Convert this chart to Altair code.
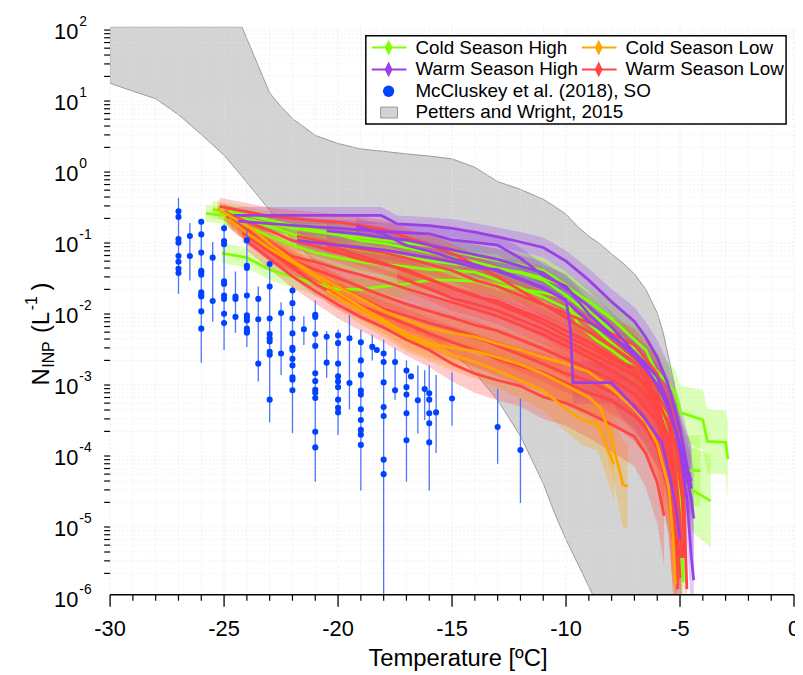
import altair as alt
import pandas as pd

FONT = "Liberation Sans"

# ---------------- axes ----------------
x_ticks = [-30, -25, -20, -15, -10, -5, 0]
x_labels = ["-30", "-25", "-20", "-15", "-10", "-5", "0"]
x_minor = [-29, -28, -27, -26, -24, -23, -22, -21, -19, -18, -17, -16,
           -14, -13, -12, -11, -9, -8, -7, -6, -4, -3, -2, -1]
y_ticks = [1e-6, 1e-5, 1e-4, 1e-3, 1e-2, 1e-1, 1, 10, 100]
y_exp = ["-6", "-5", "-4", "-3", "-2", "-1", "0", "1", "2"]
y_minor = [m * 10.0 ** k for k in range(-6, 2) for m in range(2, 10)]

# ---------------- Petters and Wright (2015) envelope ----------------
pw_T = [-30, -29, -28, -27, -26, -25, -24.22, -23.5, -23, -22.5, -22, -21, -20,
        -19, -18, -17, -16, -15, -14, -13, -12, -11, -10.5, -10, -9.5, -9,
        -8.83, -8.5, -8, -7.5, -7, -6.5, -6, -5.75, -5.5, -5.25, -5.1, -5.0, -4.96]
pw_hi = [100, 100, 100, 100, 100, 100, 100, 28.2, 11.7, 7.5, 5.1, 2.95, 2.27,
         1.9, 1.76, 1.62, 1.51, 1.38, 1.05, 0.66, 0.513, 0.372, 0.295, 0.229,
         0.155, 0.112, 0.103, 0.087, 0.063, 0.047, 0.033, 0.020, 0.0093, 0.0051,
         0.0022, 0.00093, 0.00032, 0.000039, 0.000001]
pw_lo = [16, 12.4, 9.7, 5.8, 3.05, 1.55, 0.785, 0.41, 0.26, 0.166, 0.1, 0.049,
         0.025, 0.0151, 0.01, 0.0066, 0.0044, 0.0026, 0.00135, 0.00055, 0.000172,
         0.000037, 0.000014, 0.000006, 0.0000028, 0.0000013,
         1e-6, 1e-6, 1e-6, 1e-6, 1e-6, 1e-6, 1e-6, 1e-6, 1e-6, 1e-6, 1e-6, 1e-6, 1e-6]

# ---------------- INP spectra: (T, N, error half-width in decades) ----------------
cold_high = {
    "G1": [(-25.8, 0.236, 0.12), (-25, 0.22, 0.12), (-24, 0.195, 0.12), (-22, 0.146, 0.13),
           (-20, 0.117, 0.14), (-18, 0.099, 0.15), (-16, 0.082, 0.15), (-14, 0.059, 0.16),
           (-12, 0.044, 0.17), (-11, 0.037, 0.18), (-10, 0.023, 0.2), (-9, 0.0098, 0.22),
           (-8, 0.0053, 0.24), (-7, 0.0031, 0.25), (-6, 0.0014, 0.28), (-5.2, 0.0007, 0.32),
           (-5, 0.00037, 0.38), (-4, 0.00029, 0.42), (-3.8, 0.000145, 0.45), (-3, 0.00014, 0.45),
           (-2.9, 0.000081, 0.55)],
    "G2": [(-25.1, 0.065, 0.14), (-24, 0.056, 0.14), (-23, 0.038, 0.15), (-22, 0.030, 0.15),
           (-21, 0.024, 0.16), (-20, 0.020, 0.16), (-19, 0.020, 0.16), (-18, 0.022, 0.16),
           (-17, 0.024, 0.16), (-16, 0.027, 0.16), (-15, 0.027, 0.16), (-14, 0.026, 0.16),
           (-13, 0.023, 0.17), (-12, 0.020, 0.17), (-11, 0.018, 0.18), (-10, 0.015, 0.19),
           (-9.5, 0.0067, 0.22), (-8.7, 0.0039, 0.24), (-8, 0.0028, 0.25), (-7, 0.0016, 0.28),
           (-6.5, 0.0011, 0.3), (-6, 0.00066, 0.33), (-5.5, 0.00025, 0.4), (-5.2, 0.000065, 0.5),
           (-4.9, 0.000039, 0.55), (-4.4, 0.000029, 0.6), (-3.65, 0.000021, 0.65)],
    "G3": [(-25.5, 0.268, 0.12), (-25, 0.244, 0.12), (-24, 0.191, 0.12), (-23, 0.153, 0.13),
           (-22, 0.121, 0.13), (-21, 0.098, 0.14), (-20, 0.085, 0.14), (-19, 0.072, 0.15),
           (-18, 0.065, 0.15), (-17, 0.057, 0.15), (-16, 0.051, 0.15), (-15, 0.046, 0.16),
           (-14, 0.042, 0.16), (-13, 0.038, 0.16), (-12, 0.035, 0.17), (-11, 0.029, 0.17),
           (-10, 0.022, 0.18), (-9, 0.0136, 0.2), (-8, 0.0077, 0.22), (-7, 0.0039, 0.25),
           (-6.5, 0.0028, 0.26), (-6, 0.0013, 0.3), (-5.5, 0.00048, 0.36), (-5.2, 0.000088, 0.5),
           (-5, 0.0000225, 0.65), (-4.9, 0.0000033, 0.8), (-4.85, 0.0000015, 0.8)],
    "G4": [(-25, 0.212, 0.12), (-24, 0.156, 0.12), (-23, 0.111, 0.13), (-22, 0.084, 0.14),
           (-21, 0.066, 0.14), (-20, 0.056, 0.15), (-19, 0.049, 0.15), (-18, 0.045, 0.15),
           (-17, 0.042, 0.16), (-16, 0.038, 0.16), (-15, 0.037, 0.16), (-14, 0.035, 0.16),
           (-13, 0.027, 0.17), (-12, 0.021, 0.17), (-11, 0.0155, 0.18), (-10, 0.0109, 0.2),
           (-9, 0.0066, 0.22), (-8, 0.0035, 0.24), (-7, 0.0019, 0.27), (-6.5, 0.00113, 0.3),
           (-6, 0.00056, 0.33), (-5.5, 0.000166, 0.42), (-5.2, 0.000031, 0.6),
           (-5, 0.0000062, 0.8), (-4.96, 0.000002, 0.8)],
    "G5": [(-24.8, 0.252, 0.12), (-24, 0.222, 0.12), (-22, 0.160, 0.13), (-20, 0.118, 0.14),
           (-19, 0.097, 0.14), (-18, 0.089, 0.14), (-17, 0.077, 0.15), (-16, 0.066, 0.15),
           (-15, 0.056, 0.15), (-14, 0.049, 0.16), (-13, 0.040, 0.16), (-12, 0.034, 0.17),
           (-11, 0.027, 0.18), (-10, 0.0165, 0.19), (-9, 0.0091, 0.21), (-8, 0.0053, 0.23),
           (-7, 0.0028, 0.25), (-6, 0.00103, 0.3), (-5.5, 0.0003, 0.38), (-5, 0.000128, 0.45),
           (-4.9, 0.000081, 0.5), (-4.8, 0.000056, 0.5), (-4.1, 0.000056, 0.5)],
}
cold_low = {
    "O1": [(-25.3, 0.277, 0.12), (-25, 0.24, 0.12), (-24, 0.161, 0.13), (-23, 0.089, 0.14),
           (-22, 0.051, 0.15), (-21, 0.0325, 0.16), (-20, 0.0218, 0.17), (-19, 0.0148, 0.18),
           (-18, 0.0099, 0.19), (-17, 0.0074, 0.2), (-16, 0.0057, 0.2), (-15, 0.0049, 0.21),
           (-14, 0.0043, 0.21), (-13, 0.0034, 0.22), (-12, 0.0028, 0.22), (-11, 0.0022, 0.23),
           (-10, 0.0018, 0.24), (-9, 0.00137, 0.26), (-8, 0.0008, 0.3), (-7, 0.00041, 0.35),
           (-6.5, 0.00027, 0.4), (-6, 0.000134, 0.5), (-5.5, 0.000033, 0.65),
           (-5.3, 0.0000062, 0.8), (-5.2, 0.0000014, 0.8)],
    "O2": [(-24.8, 0.195, 0.12), (-24, 0.125, 0.13), (-23, 0.075, 0.14), (-22, 0.048, 0.15),
           (-21, 0.0305, 0.16), (-20, 0.0177, 0.17), (-19, 0.0113, 0.18), (-18, 0.0074, 0.19),
           (-17, 0.0047, 0.2), (-16, 0.0035, 0.21), (-15, 0.0030, 0.21), (-14, 0.0027, 0.22),
           (-13, 0.0022, 0.22), (-12, 0.00175, 0.23), (-11, 0.0013, 0.25), (-10, 0.00089, 0.27),
           (-9, 0.0006, 0.3), (-8.5, 0.00044, 0.33), (-8, 0.000155, 0.45), (-7.5, 0.000035, 0.6),
           (-7.3, 0.000034, 0.6)],
    "O3": [(-20.5, 0.0193, 0.17), (-19, 0.0099, 0.19), (-18, 0.0068, 0.2), (-17, 0.0043, 0.21),
           (-16, 0.0032, 0.21), (-15, 0.0024, 0.22), (-14, 0.0019, 0.23), (-13, 0.00143, 0.24),
           (-12, 0.00104, 0.26), (-11, 0.00075, 0.28), (-10, 0.00041, 0.32), (-9.3, 0.00029, 0.35),
           (-8.6, 0.00025, 0.37), (-8.3, 0.00014, 0.42), (-7.9, 0.000069, 0.5)],
}
warm_high = {
    "P1": [(-24.6, 0.22, 0.12), (-23, 0.22, 0.12), (-21, 0.22, 0.12), (-19, 0.22, 0.12),
           (-18.1, 0.22, 0.12), (-17.4, 0.167, 0.12), (-16, 0.158, 0.12), (-15, 0.145, 0.13),
           (-14, 0.128, 0.13), (-13, 0.11, 0.13), (-12, 0.093, 0.14), (-11, 0.078, 0.14),
           (-10, 0.05, 0.15), (-9, 0.027, 0.16), (-8, 0.0134, 0.18), (-7, 0.0071, 0.2),
           (-6.5, 0.0042, 0.22), (-6, 0.0022, 0.25), (-5.5, 0.00087, 0.3), (-5, 0.000214, 0.38),
           (-4.7, 0.000069, 0.48), (-4.5, 0.000031, 0.55)],
    "P2": [(-24.4, 0.183, 0.12), (-22, 0.16, 0.12), (-20, 0.145, 0.12), (-18, 0.13, 0.13),
           (-16, 0.121, 0.13), (-15, 0.1, 0.13), (-14, 0.092, 0.14), (-13, 0.084, 0.14),
           (-12, 0.055, 0.15), (-11, 0.031, 0.16), (-10, 0.0222, 0.17), (-9, 0.009, 0.19),
           (-8, 0.0045, 0.21), (-7, 0.0023, 0.24), (-6.5, 0.0015, 0.26), (-6, 0.00092, 0.29),
           (-5.5, 0.00041, 0.34), (-5, 0.000132, 0.42), (-4.8, 0.000074, 0.48),
           (-4.5, 0.00004, 0.52)],
    "P3": [(-20.5, 0.133, 0.12), (-19, 0.12, 0.12), (-18, 0.107, 0.13), (-17, 0.1, 0.13),
           (-16, 0.084, 0.13), (-15, 0.072, 0.14), (-14, 0.062, 0.14), (-13, 0.053, 0.15),
           (-12, 0.0425, 0.15), (-11, 0.0342, 0.16), (-10, 0.0205, 0.17), (-9, 0.0116, 0.19),
           (-8, 0.0059, 0.21), (-7, 0.0026, 0.24), (-6.5, 0.00178, 0.26), (-6, 0.00116, 0.28),
           (-5.5, 0.00049, 0.33), (-5, 0.000107, 0.45), (-4.7, 0.0000225, 0.6),
           (-4.5, 0.0000033, 0.8), (-4.4, 0.0000016, 0.8)],
    "P4": [(-19.2, 0.156, 0.12), (-18, 0.12, 0.13), (-17, 0.083, 0.13), (-16, 0.069, 0.14),
           (-15, 0.055, 0.14), (-14, 0.0444, 0.15), (-13, 0.036, 0.15), (-12, 0.0275, 0.16),
           (-11, 0.0205, 0.17), (-10, 0.0145, 0.18), (-9.8, 0.0053, 0.22), (-9.7, 0.00097, 0.3),
           (-8, 0.00097, 0.3), (-7.3, 0.00056, 0.33), (-6.6, 0.00032, 0.37), (-5.8, 0.00014, 0.43),
           (-5.4, 0.000039, 0.55), (-5.2, 0.000018, 0.65), (-5, 0.0000062, 0.8)],
    "P5": [(-21.8, 0.098, 0.13), (-20, 0.084, 0.13), (-18, 0.072, 0.14), (-16, 0.056, 0.14),
           (-15, 0.049, 0.15), (-14, 0.041, 0.15), (-13, 0.038, 0.15), (-12, 0.0285, 0.16),
           (-11, 0.0214, 0.17), (-10, 0.0137, 0.18), (-9, 0.007, 0.2), (-8, 0.0043, 0.22),
           (-7, 0.0026, 0.24), (-6.5, 0.0016, 0.26), (-6, 0.00089, 0.29), (-5.5, 0.00044, 0.33),
           (-5, 0.000115, 0.43), (-4.7, 0.0000428, 0.52), (-4.5, 0.0000225, 0.6),
           (-4.4, 0.0000118, 0.7)],
}
warm_low = {
    "R1": [(-25.2, 0.296, 0.12), (-24, 0.25, 0.12), (-23, 0.214, 0.12), (-22, 0.2, 0.12),
           (-21, 0.186, 0.12), (-20, 0.177, 0.12), (-19, 0.16, 0.12), (-18, 0.14, 0.13),
           (-17, 0.108, 0.13), (-16, 0.084, 0.14), (-15, 0.064, 0.14), (-14, 0.0444, 0.15),
           (-13, 0.0302, 0.16), (-12, 0.0194, 0.17), (-11, 0.0124, 0.18), (-10, 0.0079, 0.2),
           (-9, 0.005, 0.22), (-8, 0.0032, 0.24), (-7, 0.0019, 0.26), (-6.5, 0.0012, 0.28),
           (-6, 0.0006, 0.32), (-5.5, 0.00024, 0.38), (-5.2, 0.000059, 0.55),
           (-5, 0.0000118, 0.75), (-4.9, 0.0000033, 0.8)],
    "R2": [(-25, 0.246, 0.12), (-24, 0.18, 0.12), (-23, 0.135, 0.13), (-22, 0.097, 0.13),
           (-21, 0.082, 0.14), (-20, 0.066, 0.14), (-19, 0.053, 0.15), (-18, 0.045, 0.15),
           (-17, 0.038, 0.16), (-16, 0.028, 0.16), (-15, 0.021, 0.17), (-14, 0.016, 0.18),
           (-13, 0.0136, 0.18), (-12, 0.0101, 0.19), (-11, 0.0076, 0.2), (-10, 0.0052, 0.22),
           (-9, 0.0036, 0.24), (-8, 0.0023, 0.26), (-7, 0.0014, 0.28), (-6.5, 0.00083, 0.3),
           (-6, 0.00046, 0.34), (-5.5, 0.00016, 0.42), (-5.2, 0.0000225, 0.65),
           (-5, 0.0000017, 0.8)],
    "R3": [(-24.9, 0.215, 0.12), (-24, 0.14, 0.13), (-23, 0.093, 0.14), (-22, 0.058, 0.15),
           (-21, 0.049, 0.15), (-20, 0.039, 0.16), (-19, 0.032, 0.16), (-18, 0.026, 0.17),
           (-17, 0.0204, 0.17), (-16, 0.0164, 0.18), (-15, 0.0132, 0.18), (-14, 0.0105, 0.19),
           (-13, 0.0084, 0.2), (-12, 0.0062, 0.21), (-11, 0.0046, 0.22), (-10, 0.0032, 0.24),
           (-9, 0.0022, 0.26), (-8, 0.00144, 0.28), (-7, 0.00091, 0.3), (-6.5, 0.00067, 0.32),
           (-6, 0.00041, 0.35), (-5.5, 0.000144, 0.44), (-5.2, 0.0000364, 0.6),
           (-5, 0.0000086, 0.8), (-4.96, 0.0000033, 0.8)],
    "R4": [(-24.7, 0.183, 0.12), (-24, 0.126, 0.13), (-23, 0.073, 0.14), (-22, 0.051, 0.15),
           (-21, 0.038, 0.16), (-20, 0.029, 0.16), (-19, 0.0215, 0.17), (-18, 0.0162, 0.18),
           (-17, 0.0124, 0.18), (-16, 0.0099, 0.19), (-15, 0.008, 0.2), (-14, 0.0063, 0.21),
           (-13, 0.0052, 0.22), (-12, 0.0039, 0.23), (-11, 0.0029, 0.24), (-10, 0.0021, 0.26),
           (-9, 0.0015, 0.28), (-8, 0.00108, 0.3), (-7, 0.00066, 0.32), (-6.5, 0.00042, 0.35),
           (-6, 0.00028, 0.38), (-5.5, 0.000087, 0.5), (-5.2, 0.0000062, 0.8),
           (-5.1, 0.0000012, 0.8)],
    "R5": [(-24.4, 0.156, 0.12), (-24, 0.128, 0.13), (-23, 0.076, 0.14), (-22, 0.045, 0.15),
           (-21, 0.0325, 0.16), (-20, 0.0222, 0.17), (-19, 0.015, 0.18), (-18, 0.0106, 0.19),
           (-17, 0.0085, 0.2), (-16, 0.0067, 0.21), (-15, 0.0055, 0.21), (-14, 0.0044, 0.22),
           (-13, 0.0032, 0.23), (-12, 0.0024, 0.24), (-11, 0.00178, 0.25), (-10, 0.0013, 0.27),
           (-9, 0.00104, 0.28), (-8, 0.0007, 0.3), (-7, 0.00048, 0.33), (-6.5, 0.0003, 0.36),
           (-6, 0.00016, 0.42), (-5.5, 0.000031, 0.6), (-5.3, 0.0000062, 0.8)],
    "R6": [(-24.2, 0.126, 0.13), (-24, 0.114, 0.13), (-23, 0.068, 0.14), (-22, 0.041, 0.15),
           (-21, 0.024, 0.17), (-20, 0.016, 0.18), (-19, 0.0117, 0.19), (-18, 0.0087, 0.2),
           (-17, 0.0065, 0.21), (-16, 0.0048, 0.22), (-15, 0.0036, 0.23), (-14, 0.0028, 0.24),
           (-13, 0.0021, 0.25), (-12, 0.00164, 0.26), (-11, 0.00136, 0.27), (-10, 0.00096, 0.29),
           (-9, 0.0007, 0.3), (-8, 0.00054, 0.32), (-7, 0.00033, 0.36), (-6.5, 0.00023, 0.4),
           (-6, 0.000115, 0.46), (-5.5, 0.000029, 0.62), (-5.2, 0.0000033, 0.8),
           (-5.1, 0.0000012, 0.8)],
    "R7": [(-24, 0.095, 0.13), (-23, 0.054, 0.15), (-22, 0.0305, 0.16), (-21, 0.0189, 0.17),
           (-20, 0.0121, 0.19), (-19, 0.0082, 0.2), (-18, 0.0058, 0.21), (-17, 0.0039, 0.22),
           (-16, 0.0028, 0.24), (-15, 0.0018, 0.25), (-14, 0.0013, 0.27), (-13, 0.00105, 0.28),
           (-12, 0.00087, 0.29), (-11, 0.00061, 0.31), (-10, 0.0005, 0.32), (-9, 0.00036, 0.35),
           (-8, 0.00025, 0.38), (-7, 0.000169, 0.42), (-6.5, 0.000097, 0.48),
           (-6, 0.000038, 0.58), (-5.7, 0.000013, 0.7)],
    "R8": [(-21.8, 0.113, 0.12), (-21, 0.1, 0.13), (-20, 0.084, 0.13), (-19, 0.074, 0.14),
           (-18, 0.066, 0.14), (-17, 0.055, 0.15), (-16, 0.045, 0.15), (-15, 0.037, 0.16),
           (-14, 0.027, 0.16), (-13, 0.022, 0.17), (-12, 0.0164, 0.17), (-11, 0.0123, 0.18),
           (-10, 0.0091, 0.19), (-9, 0.0068, 0.2), (-8, 0.0048, 0.22), (-7, 0.0033, 0.24),
           (-6.5, 0.0021, 0.26), (-6, 0.0013, 0.28), (-5.5, 0.0005, 0.33), (-5.2, 0.00022, 0.38),
           (-4.9, 0.000059, 0.5), (-4.8, 0.0000118, 0.7), (-4.7, 0.0000012, 0.8)],
    "R9": [(-20.5, 0.082, 0.13), (-20, 0.075, 0.13), (-19, 0.059, 0.14), (-18, 0.047, 0.15),
           (-17, 0.0357, 0.16), (-16, 0.0275, 0.16), (-15, 0.021, 0.17), (-14, 0.0166, 0.18),
           (-13, 0.0124, 0.18), (-12, 0.0092, 0.19), (-11, 0.0066, 0.2), (-10, 0.0044, 0.22),
           (-9, 0.0031, 0.24), (-8, 0.0021, 0.26), (-7, 0.0016, 0.27), (-6.5, 0.0011, 0.29),
           (-6, 0.0005, 0.33), (-5.5, 0.00027, 0.38), (-5.2, 0.000112, 0.45),
           (-4.9, 0.0000225, 0.65), (-4.8, 0.0000033, 0.8)],
    "R10": [(-17.4, 0.0312, 0.16), (-17, 0.027, 0.16), (-16, 0.0205, 0.17), (-15, 0.015, 0.18),
            (-14, 0.0124, 0.18), (-13, 0.01, 0.19), (-12, 0.0074, 0.2), (-11, 0.0055, 0.21),
            (-10, 0.0038, 0.22), (-9, 0.0026, 0.24), (-8, 0.0018, 0.26), (-7, 0.00125, 0.28),
            (-6.5, 0.00093, 0.3), (-6, 0.00068, 0.32), (-5.5, 0.00035, 0.37),
            (-5.2, 0.00012, 0.45), (-4.9, 0.0000428, 0.55), (-4.8, 0.0000086, 0.8)],
}

# ---------------- McCluskey et al. (2018), SO ----------------
mc_points = {
    -27: [0.252, 0.210, 0.102, 0.091, 0.059, 0.049, 0.039, 0.034],
    -26.5: [0.113, 0.059],
    -26: [0.179, 0.119, 0.066, 0.0367, 0.0348, 0.0322, 0.0182, 0.0167, 0.0159, 0.0098, 0.0056],
    -25.5: [0.056, 0.0137],
    -25: [0.145, 0.096, 0.0866, 0.026, 0.0238, 0.0164, 0.0147, 0.0091, 0.0067],
    -24.5: [0.0159, 0.0147, 0.0082],
    -24: [0.098, 0.043, 0.040, 0.0164, 0.0086, 0.0080, 0.0073, 0.0056, 0.0052, 0.0049],
    -23.5: [0.0147, 0.0076, 0.0018],
    -23: [0.0455, 0.0219, 0.0078, 0.0047, 0.0041, 0.0037, 0.00265, 0.0024, 0.00056],
    -22.5: [0.0093, 0.0025],
    -22: [0.0193, 0.0128, 0.0078, 0.0048, 0.0030, 0.0028, 0.0021, 0.0017, 0.00116, 0.00107, 0.00076],
    -21.5: [0.0055],
    -21: [0.0088, 0.0082, 0.0047, 0.0032, 0.00132, 0.00102, 0.00077, 0.00070, 0.00059, 0.000198, 0.000119],
    -20.5: [0.0043, 0.00186],
    -20: [0.0045, 0.0035, 0.0018, 0.00119, 0.00101, 0.00084, 0.00056, 0.00043, 0.00037],
    -19.5: [0.0041, 0.00096],
    -19: [0.0036, 0.0020, 0.00125, 0.00075, 0.00066, 0.00041, 0.00029, 0.00021, 0.00018, 0.000129],
    -18.5: [0.0031],
    -18.3: [0.0028],
    -18: [0.0025, 0.0019, 0.00098, 0.00044, 0.00033, 0.00008, 0.00005],
    -17.5: [0.0019, 0.00076],
    -17: [0.00144, 0.00084, 0.00066, 0.00036, 0.00015],
    -16.8: [0.00119],
    -16.5: [0.00055],
    -16.2: [0.00079],
    -16: [0.00069, 0.00056, 0.00036, 0.00026, 0.00014],
    -15.7: [0.00037],
    -15: [0.00058],
    -13: [0.00023],
    -12: [0.000109],
}
mc_bar_T = [-27, -26.5, -26, -25.5, -25, -24.5, -24, -23.5, -23, -22.5, -22, -21.5, -21,
            -20.5, -20, -19.5, -19, -18.5, -18, -17.5, -17, -16.5, -16.2, -16, -15.7, -15, -13, -12]
mc_bar_lo = [0.0173, 0.0266, 0.00186, 0.0070, 0.0028, 0.0049, 0.0031, 0.00101, 0.000267, 0.00125,
             0.000188, 0.0033, 0.000039, 0.00114, 0.000178, 0.00041, 0.0000294, 0.0020, 0.000001,
             0.00056, 0.000039, 0.000187, 0.00029, 0.0000294, 0.000099, 0.00024, 0.00007, 0.0000196]
mc_bar_hi = [0.387, 0.172, 0.195, 0.093, 0.166, 0.0358, 0.133, 0.0219, 0.0506, 0.0132, 0.0219,
             0.0084, 0.014, 0.0052, 0.0054, 0.0087, 0.0054, 0.0046, 0.0039, 0.0030, 0.0020,
             0.0017, 0.00145, 0.0017, 0.00125, 0.00135, 0.0008, 0.00058]

COLORS = {"csh": "#80FF00", "csl": "#FFA500", "wsh": "#9B3FE6", "wsl": "#FF4545"}

W, H = 690, 573
xs = alt.Scale(domain=[-30, 0], nice=False, zero=False)
ys = alt.Scale(type="log", domain=[1e-6, 100], nice=False)

GRID = "#e3e3ee"
Y_AXIS = alt.Axis(
    values=y_ticks, labels=False, title=None, tickSize=11, tickWidth=1.3, tickColor="black",
    domainColor="black", domainWidth=1.3, grid=True, gridColor=GRID, gridDash=[2, 2],
    gridWidth=0.8)


def spectra_df(lines, key):
    rows = []
    for name, pts in lines.items():
        for T, N, e in pts:
            rows.append({"line": key + name, "T": T, "N": N,
                         "lo": N / 10 ** e, "hi": N * 10 ** e})
    return pd.DataFrame(rows)


dfs = {"csh": spectra_df(cold_high, "csh"), "csl": spectra_df(cold_low, "csl"),
       "wsh": spectra_df(warm_high, "wsh"), "wsl": spectra_df(warm_low, "wsl")}

layers = []

# Petters and Wright envelope (carries the y axis)
pw_df = pd.DataFrame({"T": pw_T, "lo": pw_lo, "hi": pw_hi})
layers.append(alt.Chart(pw_df).mark_area(color="#D3D3D3", stroke="#9a9a9a", strokeWidth=1,
                                         opacity=1, clip=True).encode(
    x=alt.X("T:Q", scale=xs, axis=None), y=alt.Y("hi:Q", scale=ys, axis=Y_AXIS), y2="lo:Q"))

# gridlines (x major + minor, y minor)
xmaj_df = pd.DataFrame({"v": x_ticks, "lab": x_labels})
xgrid_df = pd.DataFrame({"v": x_minor})
ygrid_df = pd.DataFrame({"v": y_minor})
layers.append(alt.Chart(xmaj_df).mark_rule(color=GRID, strokeDash=[2, 2], strokeWidth=0.8).encode(
    x=alt.X("v:Q", scale=xs, axis=None), y=alt.value(0), y2=alt.value(H)))
layers.append(alt.Chart(xgrid_df).mark_rule(color=GRID, strokeDash=[2, 2], strokeWidth=0.8,
                                            opacity=0.6).encode(
    x=alt.X("v:Q", scale=xs, axis=None), y=alt.value(0), y2=alt.value(H)))
layers.append(alt.Chart(ygrid_df).mark_rule(color=GRID, strokeDash=[2, 2], strokeWidth=0.8,
                                            opacity=0.6).encode(
    y=alt.Y("v:Q", scale=ys, axis=None), x=alt.value(0), x2=alt.value(W)))

# error bands
for key in ["csh", "csl", "wsh", "wsl"]:
    layers.append(alt.Chart(dfs[key]).mark_area(color=COLORS[key], opacity=0.28, clip=True).encode(
        x=alt.X("T:Q", scale=xs, axis=None), y=alt.Y("lo:Q", scale=ys, axis=None), y2="hi:Q",
        detail="line:N"))

# spectra lines
for key in ["csh", "wsl", "csl", "wsh"]:
    layers.append(alt.Chart(dfs[key]).mark_line(color=COLORS[key], strokeWidth=2.8, clip=True).encode(
        x=alt.X("T:Q", scale=xs, axis=None), y=alt.Y("N:Q", scale=ys, axis=None), detail="line:N"))

# McCluskey
mc_rows = [{"T": t, "N": n} for t, ns in mc_points.items() for n in ns]
mc_df = pd.DataFrame(mc_rows)
mcbar_df = pd.DataFrame({"T": mc_bar_T, "lo": mc_bar_lo, "hi": mc_bar_hi})
layers.append(alt.Chart(mcbar_df).mark_rule(color="#4a74ff", strokeWidth=1.3, clip=True).encode(
    x=alt.X("T:Q", scale=xs, axis=None), y=alt.Y("lo:Q", scale=ys, axis=None), y2="hi:Q"))
layers.append(alt.Chart(mc_df).mark_circle(color="#0042FF", size=38, opacity=1).encode(
    x=alt.X("T:Q", scale=xs, axis=None), y=alt.Y("N:Q", scale=ys, axis=None)))

# y tick labels 10^k
ylab_df = pd.DataFrame({"v": y_ticks, "base": ["10"] * len(y_ticks), "ex": y_exp})
layers.append(alt.Chart(ylab_df).mark_text(align="right", baseline="middle", font=FONT, fontSize=22,
                                           dy=5, color="black").encode(
    x=alt.value(-32), y=alt.Y("v:Q", scale=ys, axis=None), text="base:N"))
layers.append(alt.Chart(ylab_df).mark_text(align="left", baseline="middle", font=FONT, fontSize=14,
                                           dy=-5, color="black").encode(
    x=alt.value(-31), y=alt.Y("v:Q", scale=ys, axis=None), text="ex:N"))

# x axis: domain line, major ticks, tick labels
layers.append(alt.Chart(one := pd.DataFrame({"k": [0]})).mark_rule(color="black", strokeWidth=1.3).encode(
    x=alt.value(0), x2=alt.value(W), y=alt.value(H)))
layers.append(alt.Chart(xmaj_df).mark_rule(color="black", strokeWidth=1.3).encode(
    x=alt.X("v:Q", scale=xs, axis=None), y=alt.value(H), y2=alt.value(H + 12)))
layers.append(alt.Chart(xmaj_df).mark_text(align="center", baseline="middle", font=FONT, fontSize=22,
                                           color="black").encode(
    x=alt.X("v:Q", scale=xs, axis=None), y=alt.value(H + 35), text="lab:N"))

# minor ticks
layers.append(alt.Chart(ygrid_df).mark_rule(color="black", strokeWidth=1.2).encode(
    y=alt.Y("v:Q", scale=ys, axis=None), x=alt.value(0), x2=alt.value(-6)))
layers.append(alt.Chart(xgrid_df).mark_rule(color="black", strokeWidth=1.2).encode(
    x=alt.X("v:Q", scale=xs, axis=None), y=alt.value(H), y2=alt.value(H + 6)))


def txt(s, x, y, size, angle=0, align="left", baseline="middle"):
    return alt.Chart(one).mark_text(text=s, font=FONT, fontSize=size, color="black", align=align,
                                    baseline=baseline, angle=angle).encode(
        x=alt.value(x), y=alt.value(y))


# x axis title
layers.append(txt("Temperature [ºC]", 351, H + 65, 24, 0, "center", "middle"))

# y axis title  N_INP (L^-1)
layers.append(txt("N", -62, 362, 24, 270, "left", "alphabetic"))
layers.append(txt("INP", -57, 344, 16, 270, "left", "alphabetic"))
layers.append(txt("(L", -62, 309, 24, 270, "left", "alphabetic"))
layers.append(txt("-1", -74, 286, 16, 270, "left", "alphabetic"))
layers.append(txt(")", -62, 266, 24, 270, "left", "alphabetic"))

# legend
DIAMOND = "M0,-1L0.5,0L0,1L-0.5,0Z"
layers.append(alt.Chart(one).mark_rect(fill="white", stroke="black", strokeWidth=1.5).encode(
    x=alt.value(258), x2=alt.value(682), y=alt.value(9), y2=alt.value(98)))
leg = [("csh", "Cold Season High", 264, 21), ("csl", "Cold Season Low", 476, 21),
       ("wsh", "Warm Season High", 264, 43), ("wsl", "Warm Season Low", 476, 43)]
for key, label, x0, y0 in leg:
    layers.append(alt.Chart(one).mark_rule(color=COLORS[key], strokeWidth=2).encode(
        x=alt.value(x0), x2=alt.value(x0 + 35), y=alt.value(y0)))
    layers.append(alt.Chart(one).mark_point(shape=DIAMOND, filled=True, size=250, opacity=1,
                                            color=COLORS[key]).encode(
        x=alt.value(x0 + 17), y=alt.value(y0)))
    layers.append(txt(label, x0 + 44, y0, 19))
layers.append(alt.Chart(one).mark_circle(color="#0042FF", size=130, opacity=1).encode(
    x=alt.value(281), y=alt.value(65)))
layers.append(txt("McCluskey et al. (2018), SO", 308, 65, 19))
layers.append(alt.Chart(one).mark_rect(fill="#D3D3D3", stroke="#9a9a9a", strokeWidth=1).encode(
    x=alt.value(273), x2=alt.value(290), y=alt.value(81), y2=alt.value(92)))
layers.append(txt("Petters and Wright, 2015", 308, 86, 19))

chart = alt.layer(*layers).properties(
    width=W, height=H,
    autosize=alt.AutoSizeParams(type="none"),
    padding={"left": 103, "top": 16, "right": 1, "bottom": 78},
    background="white",
).configure_view(stroke=None)

chart.save("out.html", embed_options={"renderer": "svg", "actions": False})
